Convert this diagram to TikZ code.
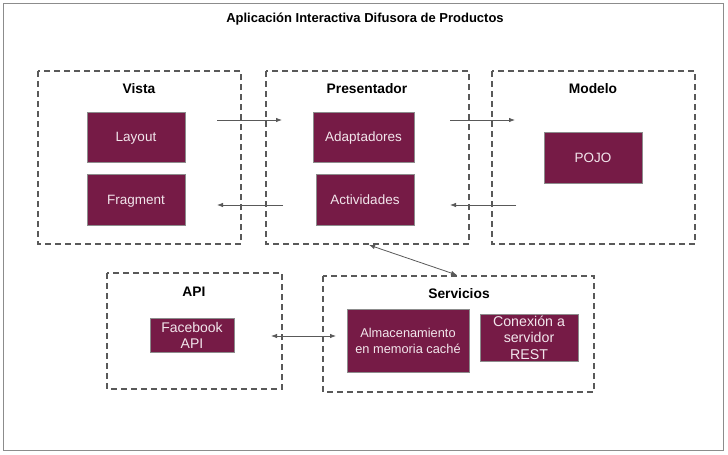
\documentclass[tikz,border=0pt]{standalone}
\usepackage{fontspec}
\setmainfont{Liberation Sans}
\usetikzlibrary{arrows.meta}
\definecolor{maroon}{HTML}{761B46}
\definecolor{edge}{HTML}{595959}
\definecolor{boxtext}{HTML}{F2E6EC}
\tikzset{
  frame/.style={draw=black!45, line width=0.8pt},
  group/.style={draw=edge, dashed, dash pattern=on 6pt off 4pt, line width=1.3pt},
  grouptitle/.style={font=\bfseries\fontsize{13.8}{15}\selectfont, text=black},
  comp/.style={draw=black!45, fill=maroon, line width=0.6pt, text=boxtext, align=center,
     font=\fontsize{13.5}{15}\selectfont, inner sep=0pt, text depth=0pt},
  link/.style={draw=edge, line width=0.8pt, -{Latex[length=6pt,width=4.5pt]}},
  blink/.style={draw=edge, line width=0.8pt, {Latex[length=6pt,width=4.5pt]}-{Latex[length=6pt,width=4.5pt]}},
}
\begin{document}
\begin{tikzpicture}[x=1pt,y=-1pt]
\useasboundingbox (0,0) rectangle (728,455);
\draw[frame] (3,3) rectangle (723,450);
\node[font=\bfseries\fontsize{13}{15}\selectfont] (title) at (365,19) {Aplicación Interactiva Difusora de Productos};

% groups
\draw[group] (38,71) rectangle (241,244);
\draw[group] (266,71) rectangle (469,244);
\draw[group] (492,71) rectangle (695,244);
\draw[group] (107,273) rectangle (282,389);
\draw[group] (323,276) rectangle (594,392);
\coordinate (presbot) at (369,245);
\coordinate (servtop) at (457,275);

\node[grouptitle] (vista) at (139,88.5) {Vista};
\node[grouptitle] (pres) at (367,88.5) {Presentador};
\node[grouptitle] (modelo) at (593,88.5) {Modelo};
\node[grouptitle] (api) at (194,291.5) {API};
\node[grouptitle] (serv) at (459,293.5) {Servicios};

% components
\node[comp, minimum width=98pt, minimum height=50pt] (layout) at (136,137) {Layout};
\node[comp, minimum width=98pt, minimum height=51pt] (fragment) at (136,199.5) {Fragment};
\node[comp, minimum width=101pt, minimum height=50pt] (adapt) at (363.5,137) {Adaptadores};
\node[comp, minimum width=98pt, minimum height=51pt] (activ) at (365,199.5) {Actividades};
\node[comp, minimum width=98pt, minimum height=51pt] (pojo) at (593,157.5) {POJO};
\node[comp, minimum width=84pt, minimum height=34pt, font=\fontsize{14}{16}\selectfont] (fb) at (192,335) {Facebook\\API};
\node[comp, minimum width=122pt, minimum height=63pt, font=\fontsize{12.8}{16}\selectfont] (alm) at (408,340.5) {Almacenamiento\\en memoria caché};
\node[comp, minimum width=98pt, minimum height=47pt, font=\fontsize{14.2}{16.5}\selectfont] (rest) at (529,337.5) {Conexión a\\servidor\\REST};

% free arrow ends
\coordinate (a1s) at (217,120); \coordinate (a1e) at (282,120);
\coordinate (a2s) at (283,205); \coordinate (a2e) at (217,205);
\coordinate (a3s) at (450,120); \coordinate (a3e) at (515,120);
\coordinate (a4s) at (516,205); \coordinate (a4e) at (450,205);
\coordinate (a5s) at (271,336); \coordinate (a5e) at (336,336);

\draw[link] (a1s) -- (a1e);
\draw[link] (a2s) -- (a2e);
\draw[link] (a3s) -- (a3e);
\draw[link] (a4s) -- (a4e);
\draw[blink] (a5s) -- (a5e);
\draw[blink] (presbot) -- (servtop);
\end{tikzpicture}
\end{document}
